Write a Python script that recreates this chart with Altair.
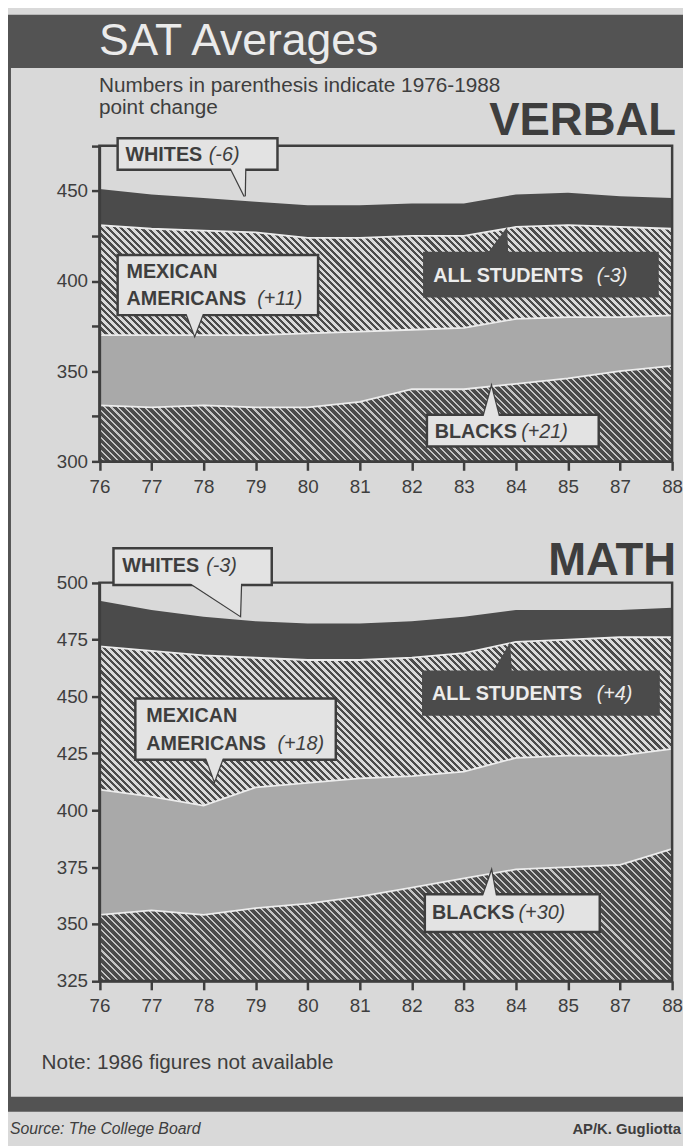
import altair as alt
import numpy as np
import pandas as pd

# ---------------- data ----------------
years = ["76", "77", "78", "79", "80", "81", "82", "83", "84", "85", "87", "88"]
positions = list(range(len(years)))

verbal_whites = [451, 448, 446, 444, 442, 442, 443, 443, 448, 449, 447, 446]
verbal_all = [431, 429, 428, 427, 424, 424, 425, 425, 430, 431, 430, 429]
verbal_mex = [370, 370, 370, 370, 371, 372, 373, 374, 379, 380, 380, 381]
verbal_black = [331, 330, 331, 330, 330, 333, 340, 340, 343, 346, 350, 353]

math_whites = [492, 488, 485, 483, 482, 482, 483, 485, 488, 488, 488, 489]
math_all = [472, 470, 468, 467, 466, 466, 467, 469, 474, 475, 476, 476]
math_mex = [409, 406, 402, 410, 412, 414, 415, 417, 423, 424, 424, 427]
math_black = [354, 356, 354, 357, 359, 362, 366, 370, 374, 375, 376, 383]

verbal_domain = [300, 475]
math_domain = [325, 500]

# ---------------- styles ----------------
FONT = "Liberation Sans, Arial, Helvetica, sans-serif"
BG = "#d9d9d9"
DARK = "#4b4b4b"
HEAD = "#535353"
INK = "#3e3e3e"
BOXF = "#e3e3e3"
STIP = "#a9a9a9"
LIGHT = "#ececec"

W_PX, H_PX = 683, 1138
X_RANGE = [92.5, 672.0]
VERBAL_RANGE = [452.0, 132.7]
MATH_RANGE = [977.7, 574.7]

# ---------------- annotations (data coordinates of each panel) ----------------
verbal_boxes = [
    dict(bx0=0.35, bx1=3.42, by0=479.2, by1=461.7, fill=BOXF, stroke=INK),
    dict(bx0=0.35, bx1=4.20, by0=414.5, by1=381.1, fill=BOXF, stroke=INK),
    dict(bx0=6.24, bx1=10.72, by0=415.6, by1=391.5, fill=DARK, stroke=DARK),
    dict(bx0=6.29, bx1=9.59, by0=325.8, by1=308.2, fill=BOXF, stroke=INK),
]
verbal_pointers = [
    ("w", [2.51, 2.79, 2.80], [463.3, 447.0, 463.3], BOXF, INK),
    ("m", [1.66, 1.83, 2.00], [382.8, 370.0, 382.8], BOXF, INK),
    ("a", [7.45, 7.81, 7.83], [414.0, 428.0, 414.0], DARK, DARK),
    ("b", [7.37, 7.53, 7.68], [324.1, 341.0, 324.1], BOXF, INK),
]
verbal_bold = [
    ("WHITES", 0.50, 469.9, INK),
    ("MEXICAN", 0.52, 405.2, INK),
    ("AMERICANS", 0.52, 389.9, INK),
    ("ALL STUDENTS", 6.41, 403.0, LIGHT),
    ("BLACKS", 6.44, 316.5, INK),
]
verbal_italic = [
    ("(-6)", 2.10, 469.9, INK),
    ("(+11)", 3.03, 389.9, INK),
    ("(-3)", 9.55, 403.0, LIGHT),
    ("(+21)", 8.10, 316.5, INK),
]

math_boxes = [
    dict(bx0=0.27, bx1=3.31, by0=515.1, by1=499.0, fill=BOXF, stroke=INK),
    dict(bx0=0.69, bx1=4.54, by0=449.1, by1=422.2, fill=BOXF, stroke=INK),
    dict(bx0=6.22, bx1=10.74, by0=460.8, by1=442.1, fill=DARK, stroke=DARK),
    dict(bx0=6.25, bx1=9.61, by0=363.1, by1=346.5, fill=BOXF, stroke=INK),
]
math_pointers = [
    ("w", [1.71, 2.70, 2.72], [500.3, 485.5, 500.3], BOXF, INK),
    ("m", [2.04, 2.21, 2.38], [423.5, 413.0, 423.5], BOXF, INK),
    ("a", [7.55, 7.87, 7.90], [459.5, 472.0, 459.5], DARK, DARK),
    ("b", [7.36, 7.53, 7.62], [361.8, 373.0, 361.8], BOXF, INK),
]
math_bold = [
    ("WHITES", 0.44, 507.2, INK),
    ("MEXICAN", 0.90, 441.2, INK),
    ("AMERICANS", 0.90, 429.0, INK),
    ("ALL STUDENTS", 6.39, 451.2, LIGHT),
    ("BLACKS", 6.39, 354.8, INK),
]
math_italic = [
    ("(-3)", 2.05, 507.2, INK),
    ("(+18)", 3.42, 429.0, INK),
    ("(+4)", 9.55, 451.2, LIGHT),
    ("(+30)", 8.05, 354.8, INK),
]


def hatch(W, H, period, dark_frac, dark, light):
    """Diagonal '\\' stripes as a sharp-stop linear gradient over an area's bbox."""
    r = H / W
    s = (1 + r) / (1 + r * r)
    span = (W + H) / np.sqrt(2)
    n = int(np.ceil(span / period))
    stops = []
    for k in range(n):
        t0 = min(1.0, k * period / span)
        td = min(1.0, (k + dark_frac) * period / span)
        t1 = min(1.0, (k + 1) * period / span)
        stops += [
            alt.GradientStop(color=dark, offset=round(t0, 5)),
            alt.GradientStop(color=dark, offset=round(td, 5)),
            alt.GradientStop(color=light, offset=round(td, 5)),
            alt.GradientStop(color=light, offset=round(t1, 5)),
        ]
    return alt.LinearGradient(gradient="linear", stops=stops,
                              x1=0, y1=1, x2=float(s), y2=float(1 - r * s))


label_expr = "[" + ",".join("'%s'" % y for y in years) + "][datum.value]"


def panel(whites, alls, mexs, blacks, dom, yrange, x_offset, y_label_expr,
          boxes, pointers, bold, italic):
    df = pd.DataFrame({"idx": positions, "white": whites, "all": alls,
                       "mex": mexs, "black": blacks})
    df["base"] = dom[0]
    xs = alt.Scale(domain=[0, 11], range=X_RANGE, nice=False, zero=False)
    ys = alt.Scale(domain=dom, range=yrange, nice=False, zero=False)
    xaxis = alt.Axis(values=positions, labelExpr=label_expr, orient="bottom",
                     offset=x_offset, title=None, grid=False, tickSize=9,
                     tickWidth=2.5, tickColor=INK, domainColor=INK,
                     domainWidth=2.5, labelFont=FONT, labelFontSize=19,
                     labelColor=INK, labelPadding=7, labelFlush=False,
                     labelOverlap=False, zindex=1)
    yaxis = alt.Axis(values=list(range(dom[0], dom[1] + 1, 25)),
                     labelExpr=y_label_expr, orient="left", offset=-X_RANGE[0],
                     title=None, grid=False, tickSize=8, tickWidth=2.5,
                     tickColor=INK, domainColor=INK, domainWidth=2.5,
                     labelFont=FONT, labelFontSize=19, labelColor=INK,
                     labelPadding=4, labelOverlap=False, labelFlush=False,
                     zindex=1)

    def X(f):
        return alt.X(f, type="quantitative", scale=xs, axis=xaxis)

    def Y(f):
        return alt.Y(f, type="quantitative", scale=ys, axis=yaxis)

    ppu = abs(yrange[0] - yrange[1]) / (dom[1] - dom[0])
    W = X_RANGE[1] - X_RANGE[0]
    h_all = (max(alls) - min(mexs)) * ppu
    h_black = (max(blacks) - dom[0]) * ppu

    base = alt.Chart(df)
    whites_band = base.mark_area(fill=DARK).encode(x=X("idx"), y=Y("white"), y2="all")
    all_band = base.mark_area(fill=hatch(W, h_all, 4.8, 0.47, DARK, BG)).encode(
        x=X("idx"), y=Y("all"), y2="mex")
    mex_band = base.mark_area(fill=STIP).encode(x=X("idx"), y=Y("mex"), y2="black")
    black_band = base.mark_area(fill=hatch(W, h_black, 4.8, 0.68, DARK, "#c4c4c4")).encode(
        x=X("idx"), y=Y("black"), y2="base")

    long = df.melt(id_vars=["idx"], value_vars=["all", "mex", "black"],
                   var_name="series", value_name="score")
    edges = alt.Chart(long).mark_line(color=LIGHT, strokeWidth=1.8).encode(
        x=X("idx"), y=Y("score"), detail="series:N")

    frame_df = pd.DataFrame({"fx0": [0], "fx1": [11], "fy0": [dom[0]], "fy1": [dom[1]]})
    frame = alt.Chart(frame_df).mark_rect(fill="transparent", stroke=INK,
                                          strokeWidth=2.5).encode(
        x=X("fx0"), x2="fx1", y=Y("fy0"), y2="fy1")

    prow = []
    for pid, pxs, pys, fill, stroke in pointers:
        for xv, yv in zip(pxs, pys):
            prow.append(dict(pid=pid, px=xv, py=yv, pb=pys[0], fill=fill, stroke=stroke))
    pdf = pd.DataFrame(prow)
    ptr_outline = alt.Chart(pdf).mark_area(strokeWidth=2.5, strokeJoin="miter").encode(
        x=X("px"), y=Y("py"), y2="pb", detail="pid:N",
        fill=alt.Fill("fill:N", scale=None), stroke=alt.Stroke("stroke:N", scale=None))
    ptr_fill = alt.Chart(pdf).mark_area().encode(
        x=X("px"), y=Y("py"), y2="pb", detail="pid:N",
        fill=alt.Fill("fill:N", scale=None))

    bdf = pd.DataFrame(boxes)
    box = alt.Chart(bdf).mark_rect(strokeWidth=2.5).encode(
        x=X("bx0"), x2="bx1", y=Y("by0"), y2="by1",
        fill=alt.Fill("fill:N", scale=None), stroke=alt.Stroke("stroke:N", scale=None))

    tb = pd.DataFrame(bold, columns=["text", "tx", "ty", "color"])
    ti = pd.DataFrame(italic, columns=["text", "tx", "ty", "color"])
    t_bold = alt.Chart(tb).mark_text(font=FONT, fontSize=20, fontWeight="bold",
                                     align="left", baseline="middle").encode(
        x=X("tx"), y=Y("ty"), text="text:N", color=alt.Color("color:N", scale=None))
    t_ital = alt.Chart(ti).mark_text(font=FONT, fontSize=20, fontStyle="italic",
                                     align="left", baseline="middle").encode(
        x=X("tx"), y=Y("ty"), text="text:N", color=alt.Color("color:N", scale=None))

    return alt.layer(whites_band, all_band, mex_band, black_band, edges, frame,
                     ptr_outline, box, ptr_fill, t_bold, t_ital)


ONE = alt.InlineData(values=[{"k": 0}])


def deco_text(txt, x, y, size, weight="normal", style="normal", align="left", color=INK):
    return alt.Chart(ONE).mark_text(text=txt, font=FONT, fontSize=size,
                                    fontWeight=weight, fontStyle=style, align=align,
                                    baseline="alphabetic", color=color).encode(
        x=alt.value(x), y=alt.value(y))


def deco_rect(x, x2, y, y2, color):
    return alt.Chart(ONE).mark_rect(color=color).encode(
        x=alt.value(x), x2=alt.value(x2), y=alt.value(y), y2=alt.value(y2))


verbal = panel(verbal_whites, verbal_all, verbal_mex, verbal_black, verbal_domain,
               VERBAL_RANGE, VERBAL_RANGE[0] - H_PX,
               "datum.value % 50 == 0 && datum.value < 475 ? datum.label : ''",
               verbal_boxes, verbal_pointers, verbal_bold, verbal_italic)
math = panel(math_whites, math_all, math_mex, math_black, math_domain,
             MATH_RANGE, MATH_RANGE[0] - H_PX, "datum.label",
             math_boxes, math_pointers, math_bold, math_italic)

chart = alt.layer(
    deco_rect(0, W_PX, 0, 54, HEAD),
    deco_rect(0, 3, 54, 1098, HEAD),
    deco_rect(0, W_PX, 1095, 1110, HEAD),
    deco_text("SAT Averages", 92, 41, 45, color="#ebebeb"),
    deco_text("Numbers in parenthesis indicate 1976-1988", 92, 78, 21),
    deco_text("point change", 92, 101, 21),
    deco_text("VERBAL", 676, 122, 46, weight="bold", align="right"),
    deco_text("MATH", 676, 567, 46, weight="bold", align="right"),
    deco_text("Note: 1986 figures not available", 34, 1067, 21),
    deco_text("Source: The College Board", 2, 1133, 16, style="italic"),
    deco_text("AP/K. Gugliotta", 681, 1133, 15, weight="bold", align="right"),
    verbal,
    math,
).resolve_scale(x="independent", y="independent").properties(
    width=W_PX, height=H_PX, padding=0,
    autosize=alt.AutoSizeParams(type="none"),
).configure(background=BG).configure_view(stroke=None)

chart.save("out.html", embed_options={"renderer": "svg", "actions": False})
